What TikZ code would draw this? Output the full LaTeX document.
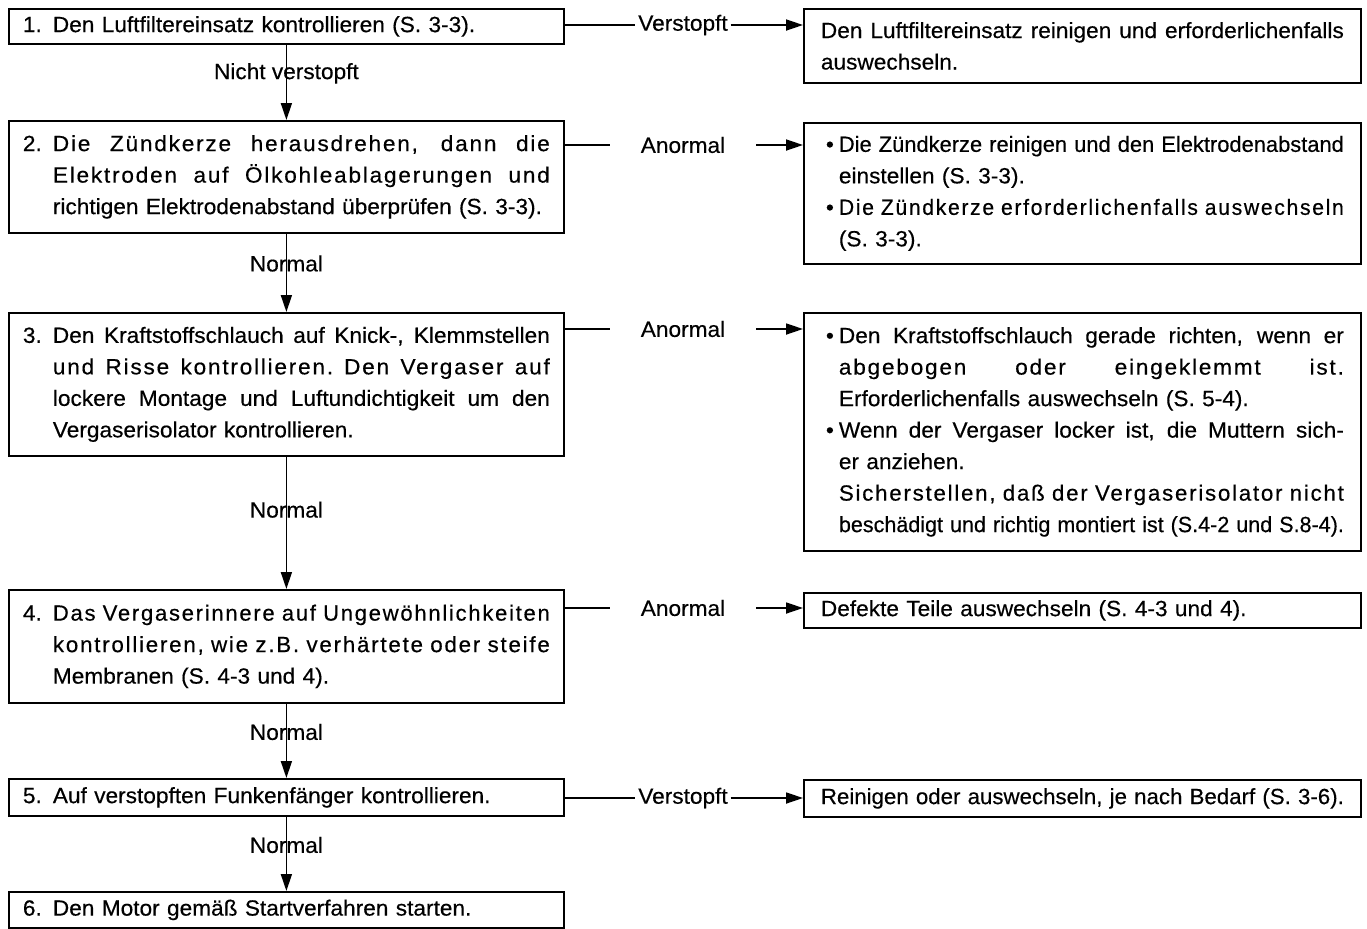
\documentclass[tikz,border=0pt]{standalone}
\usepackage{fontspec}
\setmainfont{Liberation Sans}[FakeStretch=1.03, FakeBold=0.4]
\newfontfamily\lsfont{Liberation Sans}[FakeStretch=1.03, FakeBold=0.4, LetterSpace=8]
\usepackage{graphicx}
\usetikzlibrary{arrows.meta}

\newcommand*{\numw}{15pt}
\newcommand*{\bulw}{9pt}
\newsavebox{\linebox}
% spread a line to a width, squeeze it if it is too long
\newcommand*{\fitto}[2]{\sbox{\linebox}{#2}%
	\ifdim\wd\linebox>#1\relax\resizebox{#1}{\height}{\usebox{\linebox}}%
	\else\makebox[#1][s]{\spaceskip=0.3em plus 1fil\relax #2}\fi}
\newcommand*{\stepj}[2]{\makebox[\numw][l]{#1}\fitto{\dimexpr\hsize-\numw\relax}{#2}}
\newcommand*{\stepl}[2]{\makebox[\numw][l]{#1}#2}
\newcommand*{\contj}[2][\numw]{\hspace*{#1}\fitto{\dimexpr\hsize-#1\relax}{#2}}
\newcommand*{\contl}[2][\numw]{\hspace*{#1}#2}
\newcommand*{\bulj}[1]{\makebox[\bulw][c]{•}\fitto{\dimexpr\hsize-\bulw\relax}{#1}}

\begin{document}
\begin{tikzpicture}
[
	x=0.5pt, y=-0.5pt,
	line width=0.9pt,
	every node/.style={font=\fontsize{11pt}{15.75pt}\selectfont},
	lbox/.style={draw, anchor=north west, text width=263.5pt, inner xsep=7pt, inner ysep=0pt, align=left},
	rbox/.style={lbox, text width=261.5pt, inner xsep=8.5pt},
	lab/.style={inner sep=0pt},
	anorm/.style={inner xsep=15pt, inner ysep=0pt},
	verst/.style={inner xsep=1pt, inner ysep=0pt},
	arr/.style={-{Triangle[length=8.5pt,width=5.5pt]}}
]

	\useasboundingbox (0,0) rectangle (1367,928);

	% checks
	\node[lbox, minimum height=17.5pt] (s1) at (8,8)
		{\stepl{1.}{Den Luftfiltereinsatz kontrollieren (S. 3-3).}};
	\node[lbox, minimum height=56pt] (s2) at (8,120)
		{\stepj{2.}{\lsfont Die Zündkerze herausdrehen, dann die}\\
		 \contj{\lsfont Elektroden auf Ölkohleablagerungen und}\\
		 \contl{richtigen Elektrodenabstand überprüfen (S. 3-3).}};
	\node[lbox, minimum height=71.5pt] (s3) at (8,312)
		{\stepj{3.}{Den Kraftstoffschlauch auf Knick-, Klemmstellen}\\
		 \contj{\lsfont und Risse kontrollieren. Den Vergaser auf}\\
		 \contj{lockere Montage und Luftundichtigkeit um den}\\
		 \contl{Vergaserisolator kontrollieren.}};
	\node[lbox, minimum height=56.5pt] (s4) at (8,589)
		{\stepj{4.}{\lsfont Das Vergaserinnere auf Ungewöhnlichkeiten}\\
		 \contj{\lsfont kontrollieren, wie z.B. verhärtete oder steife}\\
		 \contl{Membranen (S. 4-3 und 4).}};
	\node[lbox, minimum height=18.5pt] (s5) at (8,778)
		{\stepl{5.}{Auf verstopften Funkenfänger kontrollieren.}};
	\node[lbox, minimum height=18pt] (s6) at (8,891)
		{\stepl{6.}{Den Motor gemäß Startverfahren starten.}};

	% remedies
	\node[rbox, minimum height=37pt] (r1) at (803,8)
		{\contj[0pt]{Den Luftfiltereinsatz reinigen und erforderlichenfalls}\\
		 auswechseln.};
	\node[rbox, minimum height=70.5pt] (r2) at (803,122)
		{\bulj{Die Zündkerze reinigen und den Elektrodenabstand}\\
		 \contl[\bulw]{einstellen (S. 3-3).}\\
		 \bulj{\lsfont Die Zündkerze erforderlichenfalls auswechseln}\\
		 \contl[\bulw]{(S. 3-3).}};
	\node[rbox, minimum height=119pt] (r3) at (803,312)
		{\bulj{Den Kraftstoffschlauch gerade richten, wenn er}\\
		 \contj[\bulw]{\lsfont abgebogen oder eingeklemmt ist.}\\
		 \contl[\bulw]{Erforderlichenfalls auswechseln (S. 5-4).}\\
		 \bulj{Wenn der Vergaser locker ist, die Muttern sich-}\\
		 \contl[\bulw]{er anziehen.}\\
		 \contj[\bulw]{\lsfont Sicherstellen, daß der Vergaserisolator nicht}\\
		 \contj[\bulw]{beschädigt und richtig montiert ist (S.4-2 und S.8-4).}};
	\node[rbox, minimum height=17.5pt] (r4) at (803,592)
		{Defekte Teile auswechseln (S. 4-3 und 4).};
	\node[rbox, minimum height=18.5pt] (r5) at (803,779)
		{\contj[0pt]{Reinigen oder auswechseln, je nach Bedarf (S. 3-6).}};

	% results
	\node[verst] (c1) at (683,25) {Verstopft};
	\node[anorm] (c2) at (683,145) {Anormal};
	\node[anorm] (c3) at (683,329) {Anormal};
	\node[anorm] (c4) at (683,608) {Anormal};
	\node[verst] (c5) at (683,798) {Verstopft};

	% main line
	\draw[arr] (s1) -- node[lab, pos=0.38] (n1) {Nicht verstopft} (s2);
	\draw[arr] (s2) -- node[lab, pos=0.38] (n2) {Normal} (s3);
	\draw[arr] (s3) -- node[lab, pos=0.4] (n3) {Normal} (s4);
	\draw[arr] (s4) -- node[lab, pos=0.38] (n4) {Normal} (s5);
	\draw[arr] (s5) -- node[lab, pos=0.38] (n5) {Normal} (s6);

	% branches
	\draw (s1.east |- c1) -- (c1);
	\draw[arr] (c1) -- (c1 -| r1.west);
	\draw (s2.east |- c2) -- (c2);
	\draw[arr] (c2) -- (c2 -| r2.west);
	\draw (s3.east |- c3) -- (c3);
	\draw[arr] (c3) -- (c3 -| r3.west);
	\draw (s4.east |- c4) -- (c4);
	\draw[arr] (c4) -- (c4 -| r4.west);
	\draw (s5.east |- c5) -- (c5);
	\draw[arr] (c5) -- (c5 -| r5.west);

\end{tikzpicture}
\end{document}
